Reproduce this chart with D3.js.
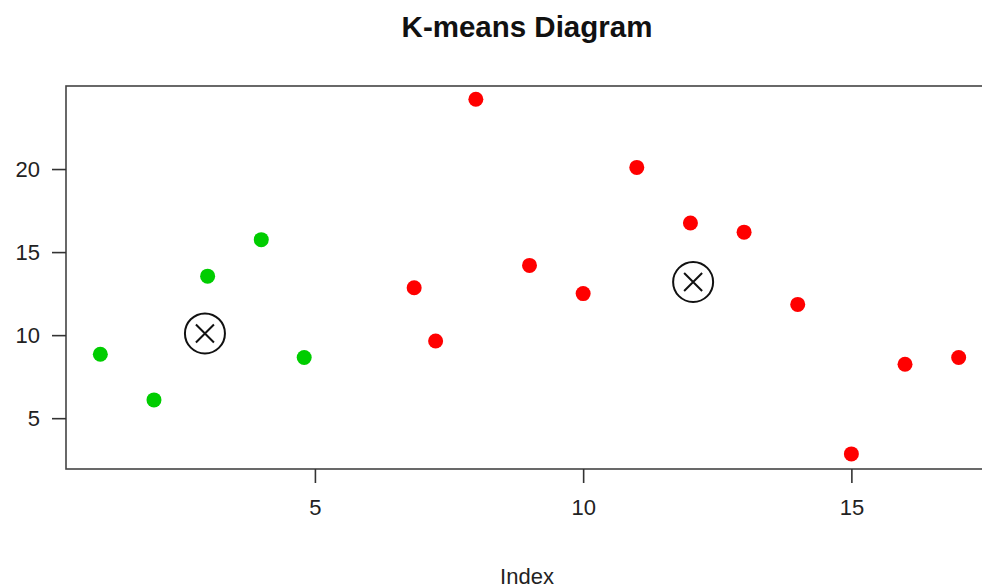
<!DOCTYPE html>
<html>
<head>
<meta charset="utf-8">
<script src="https://cdn.jsdelivr.net/npm/d3@7"></script>
<style>
  body { margin: 0; background: #fff; }
  text { font-family: Arial, "Liberation Sans", sans-serif; }
</style>
</head>
<body>
<div id="chart"></div>
<script>
// points: index, value, cluster
let xs = [1, 2, 3, 4, 4.8, 6.85, 7.25, 8, 9, 10, 11, 12, 13, 14, 15, 16, 17];
let ys = [8.85, 6.1, 13.55, 15.75, 8.65, 12.85, 9.65, 24.2, 14.2, 12.5, 20.1, 16.75, 16.2, 11.85, 2.85, 8.25, 8.65];
let cluster = [1, 1, 1, 1, 1, 2, 2, 2, 2, 2, 2, 2, 2, 2, 2, 2, 2];

// cluster centres
let centerX = [2.95, 12.05];
let centerY = [10.1, 13.2];

let xTicks = [5, 10, 15];
let yTicks = [5, 10, 15, 20];
let clusterColors = { 1: '#00cd00', 2: '#ff0000' };

let width = 982,
  height = 588;

let svg = d3.select('#chart')
  .append('svg')
  .attr('width', width)
  .attr('height', height);

// plot region (right edge runs past the window like in the original)
let mLeft = 66, mRight = 993, mTop = 86, mBottom = 469;

let x = d3.scaleLinear().domain([0.36, 17.64]).range([mLeft, mRight]);
let y = d3.scaleLinear().domain([1.94, 25.0]).range([mBottom, mTop]);

// box
svg.append('rect')
  .attr('x', mLeft)
  .attr('y', mTop)
  .attr('width', mRight - mLeft)
  .attr('height', mBottom - mTop)
  .attr('fill', 'none')
  .attr('stroke', '#444')
  .attr('stroke-width', 1.6);

// x axis
let xAxis = svg.append('g')
  .attr('transform', `translate(0,${mBottom})`)
  .call(d3.axisBottom(x).tickValues(xTicks).tickSize(14).tickPadding(16).tickFormat(d3.format('d')));
xAxis.select('.domain').remove();

// y axis
let yAxis = svg.append('g')
  .attr('transform', `translate(${mLeft},0)`)
  .call(d3.axisLeft(y).tickValues(yTicks).tickSize(14).tickPadding(12).tickFormat(d3.format('d')));
yAxis.select('.domain').remove();

svg.selectAll('.tick line').attr('stroke', '#333').attr('stroke-width', 1.6);
svg.selectAll('.tick text')
  .attr('fill', '#222')
  .style('font-size', '22px')
  .style('font-family', 'Arial, "Liberation Sans", sans-serif');

// points
svg.selectAll('circle.pt')
  .data(xs)
  .enter()
  .append('circle')
  .attr('class', 'pt')
  .attr('cx', (d) => x(d))
  .attr('cy', (d, i) => y(ys[i]))
  .attr('r', 7.5)
  .attr('fill', (d, i) => clusterColors[cluster[i]]);

// centres: circle with a cross
let centers = svg.selectAll('g.center')
  .data(centerX)
  .enter()
  .append('g')
  .attr('class', 'center')
  .attr('transform', (d, i) => `translate(${x(d)},${y(centerY[i])})`);

centers.append('circle')
  .attr('r', 20)
  .attr('fill', 'none')
  .attr('stroke', '#111')
  .attr('stroke-width', 2);

centers.append('path')
  .attr('d', 'M-9,-9L9,9M-9,9L9,-9')
  .attr('stroke', '#111')
  .attr('stroke-width', 2);

// title and axis label
svg.append('text')
  .attr('x', 527)
  .attr('y', 37)
  .attr('text-anchor', 'middle')
  .style('font-size', '29.5px')
  .style('font-weight', 'bold')
  .attr('fill', '#111')
  .text('K-means Diagram');

svg.append('text')
  .attr('x', 527)
  .attr('y', 584)
  .attr('text-anchor', 'middle')
  .style('font-size', '22px')
  .attr('fill', '#222')
  .text('Index');
</script>
</body>
</html>
